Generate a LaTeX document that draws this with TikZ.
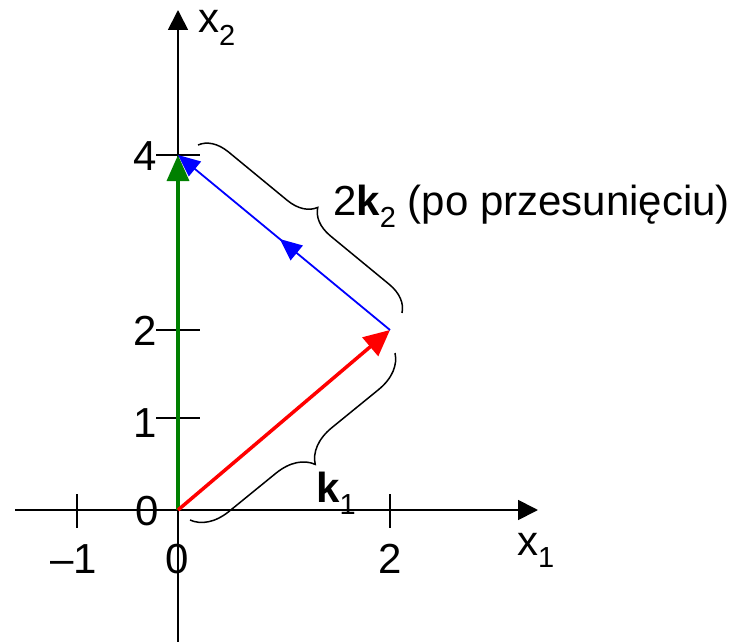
\documentclass[tikz,border=0pt]{standalone}
\usepackage{fontspec}
\setmainfont{Liberation Sans}
\usetikzlibrary{arrows.meta,decorations.pathreplacing,decorations.markings}
\definecolor{vgreen}{RGB}{0,128,0}
\newcommand\lowsub[1]{\raisebox{-0.3em}{\fontsize{29}{29}\selectfont #1}}
\begin{document}
\begin{tikzpicture}[x=1pt,y=-1pt,
  lbl/.style={font=\fontsize{42}{44}\selectfont, inner sep=0pt},
  axis/.style={line width=1.8pt, -{Triangle[length=20pt,width=20pt]}},
  tickmark/.style={line width=1.5pt},
  redvec/.style={red, line width=3.5pt, -{Triangle[length=26pt,width=24pt]}},
  greenvec/.style={vgreen, line width=3.5pt, -{Triangle[length=26pt,width=22pt]}},
  bluevec/.style={blue, line width=1.8pt, -{Triangle[length=22pt,width=19pt]},
    postaction={decorate}, decoration={markings, mark=at position 0.52 with {\arrow{Triangle[length=22pt,width=19pt]}}}},
  bracestyle/.style={decorate, line width=1.5pt}
]
\useasboundingbox (0,0) rectangle (742,642);
\coordinate (O) at (178,510);
\coordinate (P) at (390,330);
\coordinate (Q) at (178,155);
\coordinate (xs) at (15,510);
\coordinate (xe) at (538,510);
\coordinate (ys) at (178,642);
\coordinate (ye) at (178,10);
% axes
\draw[axis] (xs) -- (xe);
\draw[axis] (ys) -- (ye);
% ticks
\draw[tickmark] (77,494) -- (77,528);
\draw[tickmark] (390,494) -- (390,528);
\draw[tickmark] (156,418) -- (200,418);
\draw[tickmark] (156,330) -- (200,330);
\draw[tickmark] (156,155) -- (200,155);
% vectors
\draw[greenvec] (O) -- (Q);
\draw[redvec] (O) -- (P);
\draw[bluevec] (P) -- (Q);
% braces
\coordinate (b1s) at (190,520);
\coordinate (b1e) at (395,353);
\coordinate (b2s) at (198,145);
\coordinate (b2e) at (402,313);
\draw[bracestyle, decoration={brace, amplitude=36pt, mirror}] (b1s) -- (b1e);
\draw[bracestyle, decoration={brace, amplitude=28pt}] (b2s) -- (b2e);
% labels
\node[lbl, anchor=base west] (lx2) at (198,33) {x\lowsub{2}};
\node[lbl, anchor=base west] (lx1) at (517,555) {x\lowsub{1}};
\node[lbl] (l4) at (145,156) {4};
\node[lbl] (l2) at (145,331) {2};
\node[lbl] (l1) at (145,423) {1};
\node[lbl] (l0y) at (147,511) {0};
\node[lbl, anchor=base] (lm1) at (74,573) {–1};
\node[lbl, anchor=base] (l0x) at (177,573) {0};
\node[lbl, anchor=base] (l2x) at (390,573) {2};
\node[lbl, anchor=base west] (lk1) at (316,502) {\textbf{k}\lowsub{1}};
\node[lbl, anchor=base west] (lk2) at (333,215) {2\textbf{k}\lowsub{2} (po przesunięciu)};
\end{tikzpicture}
\end{document}
